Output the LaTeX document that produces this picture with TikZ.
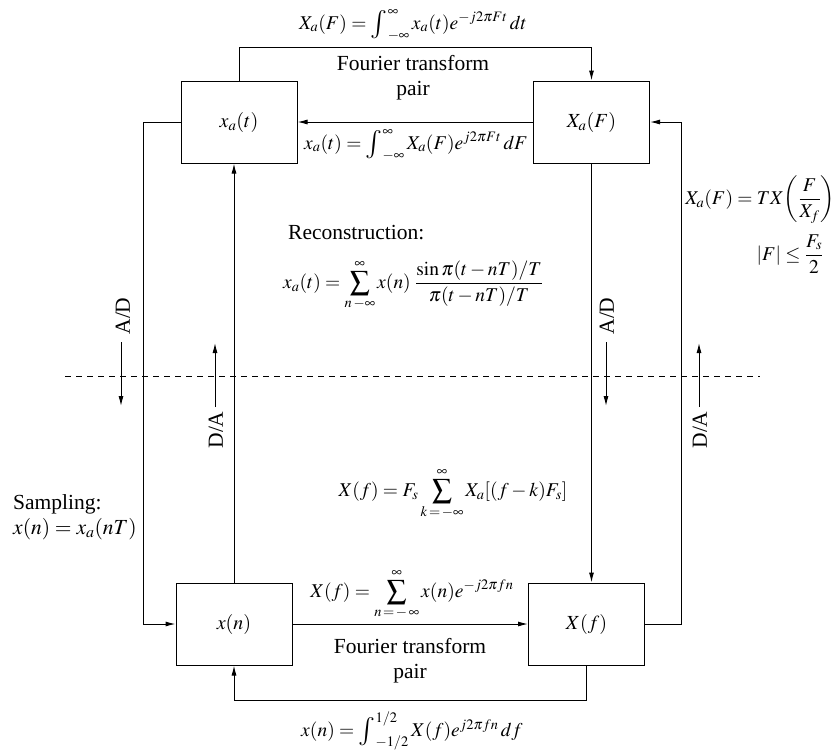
\documentclass[tikz,border=0pt]{standalone}
\usepackage{amsmath}
\usepackage{mathptmx}
\usepackage{fontspec}
\setmainfont{Liberation Serif}
\usetikzlibrary{arrows.meta}
\newcommand\bigintg[2]{\mathop{\vcenter{\hbox{\scalebox{1.45}{$\textstyle\int$}}}}\nolimits_{#1}^{#2}}
\begin{document}
\begin{tikzpicture}[x=1pt,y=-1pt,
  font=\fontsize{21.5}{25}\selectfont,
  box/.style={draw,line width=1pt,minimum width=116pt,minimum height=82pt,inner sep=0pt,font=\fontsize{20}{24}\selectfont},
  arr/.style={line width=1pt,-{Latex[length=10pt,width=5pt]}},
  lbl/.style={inner sep=1pt},
  mth/.style={inner sep=0.5pt,font=\fontsize{19.5}{23}\selectfont},
  vlbl/.style={inner sep=1pt,rotate=90}]
\useasboundingbox (0,0) rectangle (836,750);
% boxes
\node[box] (xat) at (239,122) {$x_a(t)$};
\node[box] (XaF) at (591.5,122) {$X_a(F)$};
\node[box] (xn) at (234,624) {$x(n)$};
\node[box] (Xf) at (586.5,624) {$X(f)$};
% connectors
\draw[arr] (xat.north) -- (239,47) -- (XaF.north |- 0,47) -- (XaF.north);
\draw[arr] (XaF.west) -- (xat.east);
\draw[arr] (xat.west) -- (143,122) -- (143,624) -- (xn.west);
\draw[arr] (Xf.east) -- (681,624) -- (681,122) -- (XaF.east);
\draw[arr] (xn.east) -- (Xf.west);
\draw[arr] (Xf.south) -- (586.5,700) -- (234,700) -- (xn.south);
\draw[arr] (xn.north) -- (xn.north |- xat.south);
\draw[arr] (XaF.south) -- (XaF.south |- Xf.north);
% dashed divider
\coordinate (dl) at (65,376);
\coordinate (dr) at (760,376);
\draw[line width=0.9pt,dash pattern=on 6pt off 5pt] (dl) -- (dr);
% A/D and D/A arrows
\coordinate (ad1a) at (121,342); \coordinate (ad1b) at (121,406);
\coordinate (da1a) at (215,407); \coordinate (da1b) at (215,343);
\coordinate (ad2a) at (606,342); \coordinate (ad2b) at (606,406);
\coordinate (da2a) at (699,407); \coordinate (da2b) at (699,343);
\draw[arr] (ad1a) -- (ad1b);
\draw[arr] (da1a) -- (da1b);
\draw[arr] (ad2a) -- (ad2b);
\draw[arr] (da2a) -- (da2b);
\node[vlbl] (adl1) at (123,316) {A/D};
\node[vlbl] (dal1) at (216,430) {D/A};
\node[vlbl] (adl2) at (607,316) {A/D};
\node[vlbl] (dal2) at (700,430) {D/A};
% formulas and labels
\node[mth] (ftop) at (413,25) {$X_a(F) = \bigintg{-\infty}{\infty} x_a(t)e^{-j2\pi Ft}\,dt$};
\node[lbl,align=center] (ftp1) at (413,78) {Fourier transform\\pair};
\node[mth] (finv) at (416,145) {$x_a(t) = \bigintg{-\infty}{\infty} X_a(F)e^{j2\pi Ft}\,dF$};
\node[mth,anchor=east] (fright) at (836,200) {$X_a(F) = TX\!\left(\dfrac{F}{X_f}\right)$};
\node[mth] (fcond) at (790,254) {$|F| \le \dfrac{F_s}{2}$};
\node[lbl,anchor=west] (recon) at (287,233) {Reconstruction:};
\node[mth] (frec) at (413,285) {$\displaystyle x_a(t) = \sum_{n\,-\infty}^{\infty} x(n)\;\frac{\sin\pi(t-nT)/T}{\pi(t-nT)/T}$};
\node[mth] (falias) at (453,494) {$\displaystyle X(f) = F_s\sum_{k\,=\,-\infty}^{\infty} X_a[(f-k)F_s]$};
\node[lbl,anchor=west,align=left] (samp) at (12,517) {Sampling:\\$x(n) = x_a(nT)$};
\node[mth] (fdtft) at (412,594) {$\displaystyle X(f) = \sum_{n\,=\,-\,\infty}^{\infty} x(n)e^{-j2\pi fn}$};
\node[lbl,align=center] (ftp2) at (410,661) {Fourier transform\\pair};
\node[mth] (fidtft) at (412,731) {$x(n) = \bigintg{-1/2}{1/2} X(f)e^{j2\pi fn}\,df$};
\end{tikzpicture}
\end{document}
